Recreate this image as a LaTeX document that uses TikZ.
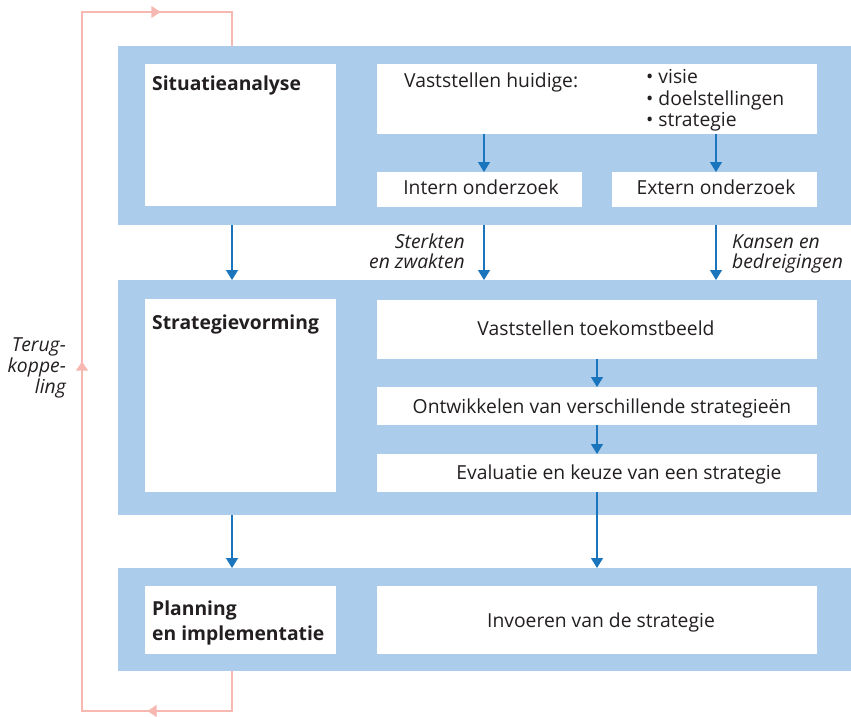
\documentclass[tikz,border=0pt]{standalone}
\usepackage{fontspec}
\setmainfont{Open Sans}
\usetikzlibrary{arrows.meta,decorations.markings}
\definecolor{panelblue}{HTML}{ABCDEB}
\definecolor{arrowblue}{HTML}{1B75BC}
\definecolor{pinkline}{HTML}{F7B8B1}
\definecolor{txt}{HTML}{231F20}
\begin{document}
\begin{tikzpicture}[x=1pt,y=-1pt,
  panel/.style={fill=panelblue, inner sep=0pt, anchor=north west, minimum width=733pt},
  wbox/.style={fill=white, inner sep=0pt, anchor=north west},
  flow/.style={draw=arrowblue, line width=1.3pt, -{Triangle[width=12pt,length=10pt]}},
  lbl/.style={inner sep=0pt, text=txt, font=\fontsize{19.3}{21}\selectfont},
  blbl/.style={lbl, font=\fontsize{19.3}{21}\selectfont\bfseries},
  ilbl/.style={lbl, font=\fontsize{19.3}{21}\selectfont\itshape}
]
\path[use as bounding box] (0,0) rectangle (851,716);

% panels
\node[panel, minimum height=179pt] (p1) at (118,46) {};
\node[panel, minimum height=235pt] (p2) at (118,280) {};
\node[panel, minimum height=103pt] (p3) at (118,568) {};

% white boxes
\node[wbox, minimum width=191pt, minimum height=142pt] (sit) at (145,64) {};
\node[wbox, minimum width=440pt, minimum height=70pt] (vast) at (377,64) {};
\node[wbox, minimum width=205pt, minimum height=35pt] (intern) at (377,172) {};
\node[wbox, minimum width=205pt, minimum height=35pt] (extern) at (612,172) {};
\node[wbox, minimum width=191pt, minimum height=193pt] (strat) at (145,299) {};
\node[wbox, minimum width=440pt, minimum height=59pt] (toek) at (377,300) {};
\node[wbox, minimum width=440pt, minimum height=38pt] (ontw) at (377,387) {};
\node[wbox, minimum width=440pt, minimum height=38pt] (eval) at (377,454) {};
\node[wbox, minimum width=191pt, minimum height=68pt] (plan) at (145,586) {};
\node[wbox, minimum width=440pt, minimum height=68pt] (invo) at (377,586) {};

% texts
\node[blbl, anchor=base west] (t1) at (152,90) {Situatieanalyse};
\node[blbl, anchor=base west] (t2) at (152,329) {Strategievorming};
\node[blbl, anchor=base west] (t3a) at (152,615) {Planning};
\node[blbl, anchor=base west] (t3b) at (152,640) {en implementatie};

\node[lbl, anchor=base west] (tv) at (404,87) {Vaststellen huidige:};
\node[lbl, anchor=base west] (b1) at (646,83) {• visie};
\node[lbl, anchor=base west] (b2) at (646,105) {• doelstellingen};
\node[lbl, anchor=base west] (b3) at (646,126) {• strategie};
\node[lbl, anchor=base] (ti) at (481,194) {Intern onderzoek};
\node[lbl, anchor=base] (te) at (716,194) {Extern onderzoek};

\node[ilbl, anchor=base east] (s1) at (465,248) {Sterkten};
\node[ilbl, anchor=base east] (s2) at (465,268) {en zwakten};
\node[ilbl, anchor=base west] (k1) at (732,248) {Kansen en};
\node[ilbl, anchor=base west] (k2) at (732,268) {bedreigingen};

\node[lbl, anchor=base] (tt) at (596,335) {Vaststellen toekomstbeeld};
\node[lbl, anchor=base] (to) at (602,413) {Ontwikkelen van verschillende strategieën};
\node[lbl, anchor=base] (tev) at (619,479) {Evaluatie en keuze van een strategie};
\node[lbl, anchor=base] (tin) at (601,627) {Invoeren van de strategie};

\node[ilbl, anchor=base east] (f1) at (66,351) {Terug-};
\node[ilbl, anchor=base east] (f2) at (66,372) {koppe-};
\node[ilbl, anchor=base east] (f3) at (66,393) {ling};

% x positions of connectors
\coordinate (cL) at (232,0);
\coordinate (cM) at (484,0);
\coordinate (cR) at (716,0);
\coordinate (cS) at (597,0);

% blue connectors
\draw[flow] (vast.south -| cM) -- (intern.north -| cM);
\draw[flow] (vast.south -| cR) -- (extern.north -| cR);
\draw[flow] (p1.south -| cL) -- (p2.north -| cL);
\draw[flow] (p1.south -| cM) -- (p2.north -| cM);
\draw[flow] (p1.south -| cR) -- (p2.north -| cR);
\draw[flow] (toek.south -| cS) -- (ontw.north -| cS);
\draw[flow] (ontw.south -| cS) -- (eval.north -| cS);
\draw[flow] (eval.south -| cS) -- (p3.north -| cS);
\draw[flow] (p2.south -| cL) -- (p3.north -| cL);

% feedback loop
\coordinate (fb1) at (232,711);
\coordinate (fb2) at (82,711);
\coordinate (fb3) at (82,12);
\coordinate (fb4) at (232,12);
\draw[pinkline, line width=1.2pt, postaction={decorate},
  decoration={markings,
    mark=at position 124pt with {\arrow[pinkline]{Triangle[width=12pt,length=9pt]}},
    mark=at position 539pt with {\arrow[pinkline]{Triangle[width=12pt,length=9pt]}},
    mark=at position 967pt with {\arrow[pinkline]{Triangle[width=12pt,length=9pt]}}}]
  (p3.south -| cL) -- (fb1) -- (fb2) -- (fb3) -- (fb4) -- (p1.north -| cL);
\end{tikzpicture}
\end{document}
